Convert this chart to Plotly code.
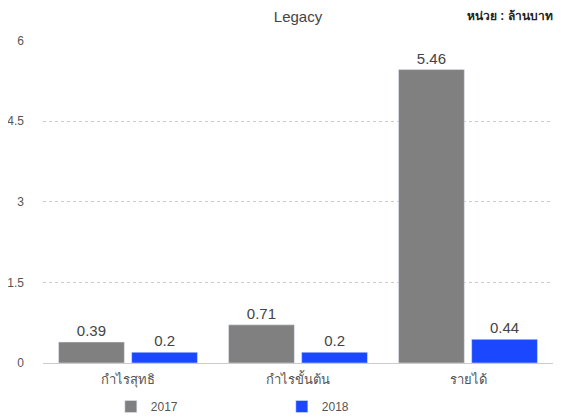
import plotly.graph_objects as go

categories = ["กำไรสุทธิ", "กำไรขั้นต้น", "รายได้"]
values_2017 = [0.39, 0.71, 5.46]
values_2018 = [0.2, 0.2, 0.44]
tick_vals = [0, 1.5, 3, 4.5, 6]
tick_text = ["0", "1.5", "3", "4.5", "6"]

font_fam = "'Liberation Sans', Arial, sans-serif"

# page body has an 8px margin, so the figure is sized to fit the remaining window
W, H = 553, 411
L, R, T, B = 35, 8, 32, 56
PH = H - T - B

fig = go.Figure()
fig.add_trace(go.Bar(x=categories, y=values_2017, name="2017", marker_color="#808080",
                     text=[str(v) for v in values_2017], textposition="outside",
                     textfont=dict(size=15, color="#444444"), cliponaxis=False))
fig.add_trace(go.Bar(x=categories, y=values_2018, name="2018", marker_color="#1a47ff",
                     text=[str(v) for v in values_2018], textposition="outside",
                     textfont=dict(size=15, color="#444444"), cliponaxis=False))

fig.update_layout(
    width=W, height=H,
    margin=dict(l=L, r=R, t=T, b=B, autoexpand=False),
    paper_bgcolor="white", plot_bgcolor="white",
    font=dict(family=font_fam, color="#555555", size=12),
    title=dict(text="Legacy", x=290 / W, xanchor="center", y=1 - 9 / H, yanchor="middle",
               font=dict(size=15, color="#444444")),
    barmode="group", bargap=0.14, bargroupgap=0.1,
    showlegend=True,
    legend=dict(orientation="h", x=0.133, xanchor="left", y=(PH + T - 384) / PH, yanchor="top",
                font=dict(size=12, color="#555555"), itemwidth=30,
                entrywidth=126),
    xaxis=dict(showgrid=False, showline=True, linecolor="#cccccc", linewidth=1,
               tickfont=dict(size=13, color="#555555"), ticks="", ticklabelstandoff=4),
    yaxis=dict(range=[0, 6.01], tickvals=tick_vals, ticktext=tick_text,
               showgrid=True, gridcolor="#cccccc", griddash="dot", gridwidth=1,
               zeroline=False, tickfont=dict(size=12, color="#555555"), ticklabelstandoff=18),
    annotations=[dict(text="<b>หน่วย : ล้านบาท</b>", x=(547 - L) / (W - L - R), xref="paper",
                      xanchor="right", y=(PH + T - 8) / PH, yref="paper", yanchor="middle",
                      showarrow=False, font=dict(size=12, color="#222222"))],
)
fig.write_html("out.html")
